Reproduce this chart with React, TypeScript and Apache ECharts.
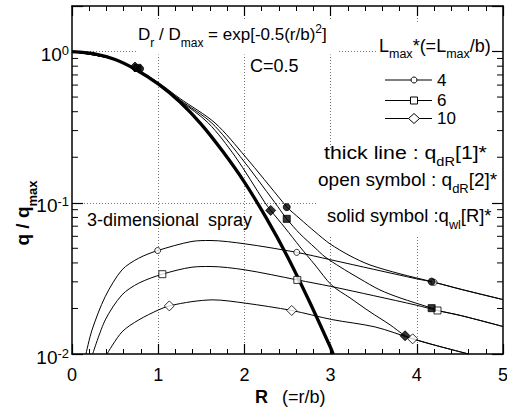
import React, { useEffect, useRef } from 'react';
import * as echarts from 'echarts';

const FONT = '"Liberation Sans", Arial, Helvetica, sans-serif';

// ---------------- data ----------------
// thick line : q_dR[1]*
const R_THICK = [0, 0.25, 0.5, 0.75, 1.0, 1.25, 1.5, 1.75, 2.0, 2.25, 2.5, 2.75, 3.0, 3.03];
const Q_THICK = [1.0, 0.97, 0.885, 0.755, 0.61, 0.465, 0.33, 0.218, 0.137, 0.08, 0.044, 0.0225, 0.011, 0.01];

// solid-symbol curves : q_wl[R]*
const R_WL4 = [0, 0.5, 0.77, 1.0, 1.25, 1.659, 2.007, 2.451, 2.491, 2.645, 2.819, 2.993, 3.225, 3.457, 3.805, 4.172, 4.521, 5.0];
const Q_WL4 = [1.0, 0.885, 0.745, 0.625, 0.49, 0.337, 0.203, 0.1, 0.0936, 0.0783, 0.0643, 0.0535, 0.0446, 0.0388, 0.0339, 0.0301, 0.0267, 0.0229];
const R_WL6 = [0, 0.5, 0.77, 1.0, 1.25, 1.621, 1.949, 2.355, 2.491, 2.645, 2.819, 2.935, 3.109, 3.341, 3.573, 3.805, 4.172, 4.24, 4.521, 5.0];
const Q_WL6 = [1.0, 0.885, 0.745, 0.62, 0.48, 0.337, 0.203, 0.1, 0.0783, 0.0623, 0.0504, 0.0439, 0.0377, 0.0314, 0.0265, 0.0235, 0.0201, 0.0194, 0.0179, 0.0152];
const R_WL10 = [0, 0.5, 0.77, 1.0, 1.25, 1.581, 1.891, 2.239, 2.305, 2.471, 2.645, 2.819, 3.013, 3.225, 3.457, 3.689, 3.864, 3.952, 4.219, 4.6];
const Q_WL10 = [1.0, 0.885, 0.745, 0.615, 0.475, 0.337, 0.203, 0.1, 0.089, 0.0683, 0.0511, 0.0388, 0.0285, 0.0235, 0.019, 0.0156, 0.0132, 0.0126, 0.0114, 0.01];

// open-symbol curves : q_dR[2]*
const R_DR4 = [0.162, 0.232, 0.386, 0.58, 0.774, 0.994, 1.392, 1.601, 2.007, 2.607, 3.0, 3.5, 4.0, 4.2, 4.521, 5.0];
const Q_DR4 = [0.01, 0.0144, 0.024, 0.036, 0.043, 0.0483, 0.0555, 0.0563, 0.0535, 0.047, 0.042, 0.0363, 0.0314, 0.0298, 0.0267, 0.0229];
const R_DR6 = [0.24, 0.386, 0.58, 0.774, 1.048, 1.392, 1.601, 2.007, 2.614, 3.0, 3.5, 4.0, 4.24, 4.521, 5.0];
const Q_DR6 = [0.01, 0.0168, 0.0246, 0.0294, 0.0337, 0.0375, 0.0379, 0.036, 0.0309, 0.028, 0.0243, 0.021, 0.0194, 0.0179, 0.0152];
const R_DR10 = [0.406, 0.58, 0.774, 1.006, 1.129, 1.392, 1.636, 2.007, 2.549, 3.014, 3.516, 3.952, 4.219, 4.6];
const Q_DR10 = [0.01, 0.014, 0.0168, 0.0196, 0.0208, 0.0222, 0.0228, 0.0217, 0.0194, 0.0169, 0.0151, 0.0126, 0.0114, 0.01];

// marker positions [R, q]
const OPEN_CIRCLE = [[0.994, 0.0483], [2.607, 0.047], [4.2, 0.0298]];
const OPEN_SQUARE = [[1.048, 0.0337], [2.614, 0.0309], [4.24, 0.0194]];
const OPEN_DIAMOND = [[1.129, 0.0208], [2.549, 0.0194], [3.952, 0.0126]];
const SOLID_CIRCLE = [[0.79, 0.77], [2.491, 0.0936], [4.172, 0.0301]];
const SOLID_SQUARE = [[0.76, 0.78], [2.491, 0.0783], [4.172, 0.0201]];
const SOLID_DIAMOND = [[0.73, 0.79], [2.305, 0.089], [3.864, 0.0132]];

const LEGEND_LABELS = ['4', '6', '10'];
const Y_MINOR_TICKS = [0.02, 0.03, 0.04, 0.05, 0.06, 0.07, 0.08, 0.09, 0.2, 0.3, 0.4, 0.5, 0.6, 0.7, 0.8, 0.9];

// ---------------- helpers ----------------
const zip = (r: number[], q: number[]) => r.map((v, i) => [v, q[i]]);

const lineSeries = (name: string, r: number[], q: number[], width: number) => ({
  type: 'line',
  name,
  data: zip(r, q),
  showSymbol: false,
  symbol: 'none',
  smooth: 0.3,
  silent: true,
  z: 3,
  lineStyle: { color: '#000', width },
  emphasis: { disabled: true },
});

const markerSeries = (data: number[][], symbol: string, size: any, filled: boolean) => ({
  type: 'scatter',
  data,
  symbol,
  symbolSize: size,
  silent: true,
  clip: false,
  z: filled ? 6 : 5,
  itemStyle: { color: filled ? '#000' : '#fff', borderColor: '#000', borderWidth: 1 },
  emphasis: { disabled: true },
});

const tok = (fontSize: number, pb = 0, weight = 'normal') => ({
  fontSize,
  fontFamily: FONT,
  fontWeight: weight,
  fill: '#000',
  verticalAlign: 'bottom',
  padding: [0, 0, pb, 0],
});

const richText = (x: number, yBottom: number, text: string, rich: any, extra: any = {}) => ({
  type: 'text',
  x,
  y: yBottom,
  z: 10,
  silent: true,
  ...extra,
  style: { text, rich, align: 'left', verticalAlign: 'bottom', fontFamily: FONT, fontSize: 17, fill: '#000' },
});

const plainText = (x: number, yCenter: number, text: string, fontSize: number, weight = 'normal') => ({
  type: 'text',
  x,
  y: yCenter,
  z: 10,
  silent: true,
  style: { text, fontSize, fontFamily: FONT, fontWeight: weight, fill: '#000', align: 'left', verticalAlign: 'middle' },
});

const maskRect = (x: number, y: number, w: number, h: number) => ({
  type: 'rect',
  z: 1,
  silent: true,
  shape: { x, y, width: w, height: h },
  style: { fill: '#fff' },
});

const legendRows = [80, 100.5, 118.5];
const legendElements: any[] = [];
LEGEND_LABELS.forEach((lab, i) => {
  const y = legendRows[i];
  legendElements.push({
    type: 'line', z: 10, silent: true,
    shape: { x1: 385, y1: y, x2: 432, y2: y },
    style: { stroke: '#000', lineWidth: 1 },
  });
  if (i === 0) {
    legendElements.push({ type: 'circle', z: 11, silent: true, shape: { cx: 414, cy: y, r: 3 }, style: { fill: '#fff', stroke: '#000', lineWidth: 1 } });
  } else if (i === 1) {
    legendElements.push({ type: 'rect', z: 11, silent: true, shape: { x: 410.5, y: y - 3.5, width: 7, height: 7 }, style: { fill: '#fff', stroke: '#000', lineWidth: 1 } });
  } else {
    legendElements.push({ type: 'polygon', z: 11, silent: true, shape: { points: [[414, y - 5], [419.5, y], [414, y + 5], [408.5, y]] }, style: { fill: '#fff', stroke: '#000', lineWidth: 1 } });
  }
  legendElements.push(plainText(437, y, lab, 17));
});

const tickLine = { color: '#000', width: 1.2 };

const option: any = {
  animation: false,
  backgroundColor: '#fff',
  textStyle: { fontFamily: FONT },
  grid: { left: 72, right: 4, top: 6, bottom: 60, containLabel: false, outerBoundsMode: 'none' },
  xAxis: [
    {
      type: 'value', min: 0, max: 5, interval: 1, position: 'bottom',
      axisLine: { show: true, onZero: false, lineStyle: { color: '#000', width: 1.5 } },
      axisTick: { show: true, inside: true, length: 10, lineStyle: tickLine },
      minorTick: { show: true, splitNumber: 5, length: 5, lineStyle: { color: '#000', width: 1 } },
      axisLabel: { show: true, margin: 12, fontSize: 18, color: '#000', fontFamily: FONT },
      splitLine: { show: true, showMinLine: false, showMaxLine: false, lineStyle: { type: [1, 2], color: '#777', width: 1 } },
    },
    {
      type: 'value', min: 0, max: 5, interval: 1, position: 'top',
      axisLine: { show: true, onZero: false, lineStyle: { color: '#000', width: 1.5 } },
      axisTick: { show: true, inside: true, length: 10, lineStyle: tickLine },
      minorTick: { show: true, splitNumber: 5, length: 5, lineStyle: { color: '#000', width: 1 } },
      axisLabel: { show: false },
      splitLine: { show: false },
    },
  ],
  yAxis: [
    {
      type: 'log', logBase: 10, min: 0.01, max: 2, position: 'left',
      axisLine: { show: true, onZero: false, lineStyle: { color: '#000', width: 1.5 } },
      axisTick: { show: true, inside: true, length: 11, lineStyle: tickLine },
      minorTick: { show: false },
      splitLine: { show: true, showMinLine: false, showMaxLine: false, lineStyle: { type: [1, 2], color: '#777', width: 1 } },
      axisLabel: {
        show: true,
        margin: 3,
        padding: [6, 0, 0, 0],
        formatter: (v: number) => {
          const e = Math.log10(v);
          const r = Math.round(e);
          if (Math.abs(e - r) > 1e-6) return '';
          return `{b|10}{s|${r}}`;
        },
        rich: {
          b: { fontSize: 19, fontFamily: FONT, color: '#000', verticalAlign: 'middle' },
          s: { fontSize: 13, fontFamily: FONT, color: '#000', verticalAlign: 'bottom', padding: [0, 0, 8, 0] },
        },
      },
    },
    {
      type: 'log', logBase: 10, min: 0.01, max: 2, position: 'right',
      axisLine: { show: true, onZero: false, lineStyle: { color: '#000', width: 1.5 } },
      axisTick: { show: true, inside: true, length: 11, lineStyle: tickLine },
      axisLabel: { show: false },
      splitLine: { show: false },
    },
  ],
  series: [
    {
      type: 'custom',
      silent: true,
      clip: false,
      z: 4,
      data: Y_MINOR_TICKS.map((v) => [0, v]),
      renderItem: (params: any, api: any) => {
        const v = api.value(1);
        const l = api.coord([0, v]);
        const r = api.coord([5, v]);
        return {
          type: 'group',
          children: [
            { type: 'line', shape: { x1: l[0], y1: l[1], x2: l[0] + 6, y2: l[1] }, style: { stroke: '#000', lineWidth: 1 } },
            { type: 'line', shape: { x1: r[0] - 6, y1: r[1], x2: r[0], y2: r[1] }, style: { stroke: '#000', lineWidth: 1 } },
          ],
        };
      },
    },
    lineSeries('qwl4', R_WL4, Q_WL4, 1),
    lineSeries('qwl6', R_WL6, Q_WL6, 1),
    lineSeries('qwl10', R_WL10, Q_WL10, 1),
    lineSeries('qdr4', R_DR4, Q_DR4, 1),
    lineSeries('qdr6', R_DR6, Q_DR6, 1),
    lineSeries('qdr10', R_DR10, Q_DR10, 1),
    lineSeries('thick', R_THICK, Q_THICK, 3.3),
    markerSeries(OPEN_CIRCLE, 'circle', 6, false),
    markerSeries(OPEN_SQUARE, 'rect', 7, false),
    markerSeries(OPEN_DIAMOND, 'diamond', [10, 10], false),
    markerSeries(SOLID_CIRCLE, 'circle', 7, true),
    markerSeries(SOLID_SQUARE, 'rect', 7, true),
    markerSeries(SOLID_DIAMOND, 'diamond', [10, 10], true),
  ],
  graphic: {
    elements: [
      maskRect(136, 20, 202, 34.5),
      maskRect(377, 24, 113, 124),
      maskRect(317, 148, 173, 88),
      richText(138, 48.6, '{m|D}{s|r}{m| / D}{s|max}{m| = exp[-0.5(r/b)}{p|2}{m|]}', {
        m: tok(17, 6), s: tok(12, 0), p: tok(12, 14),
      }),
      plainText(250, 65.7, 'C=0.5', 18),
      richText(379, 60.6, '{m|L}{s|max}{m|*(=L}{s|max}{m|/b)}', { m: tok(18, 6), s: tok(12.5, 0) }),
      ...legendElements,
      richText(324, 167.9, '{m|thick line : q}{s|dR}{m|[1]*}', { m: tok(19, 6), s: tok(13, 0) }, { scaleX: 1.12 }),
      richText(318, 194.9, '{m|open symbol : q}{s|dR}{m|[2]*}', { m: tok(19, 6), s: tok(13, 0) }),
      richText(327, 230.9, '{m|solid symbol :q}{s|wl}{m|[R]*}', { m: tok(19, 6), s: tok(13, 0) }, { scaleX: 0.97 }),
      plainText(87, 219.7, '3-dimensional', 18),
      plainText(208, 219.7, 'spray', 18),
      plainText(255, 396.7, 'R', 18, 'bold'),
      plainText(282, 396.7, '(=r/b)', 18),
      {
        type: 'text',
        x: 39,
        y: 213,
        rotation: Math.PI / 2,
        z: 10,
        silent: true,
        style: {
          text: '{m|q / q}{s|max}',
          rich: { m: tok(19, 7, 'bold'), s: tok(13, 0, 'bold') },
          align: 'center',
          verticalAlign: 'bottom',
          fontFamily: FONT,
          fontSize: 19,
          fill: '#000',
        },
      },
    ],
  },
};

export default function App() {
  const ref = useRef<HTMLDivElement>(null);
  useEffect(() => {
    const chart = echarts.init(ref.current as HTMLDivElement, null, { renderer: 'svg' });
    chart.setOption(option);
    return () => chart.dispose();
  }, []);
  return (
    <div
      ref={ref}
      style={{ position: 'fixed', left: 0, top: 0, width: 507, height: 414, background: '#fff' }}
    />
  );
}
